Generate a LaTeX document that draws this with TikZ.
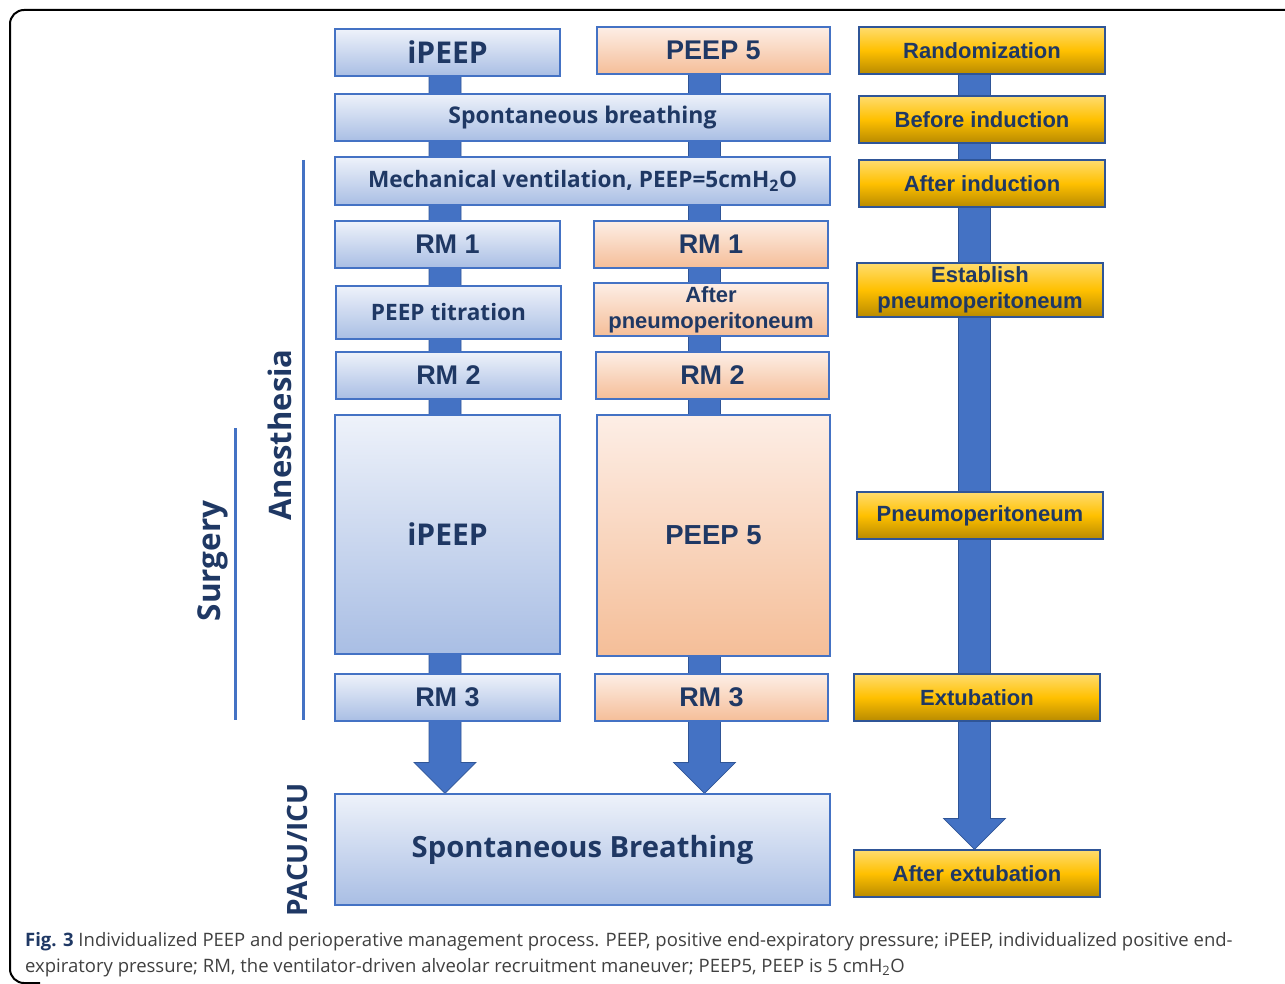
\documentclass[tikz,border=0pt]{standalone}
\usepackage{fontspec}
\setmainfont{Open Sans}
\newfontfamily\arialfont{Liberation Sans}
\usepackage{tikz}
\usetikzlibrary{calc,backgrounds}
\definecolor{navytext}{HTML}{1F3864}
\definecolor{barblue}{HTML}{4472C4}
\definecolor{edgeblue}{HTML}{2F5597}
\definecolor{bluetop}{HTML}{EEF2FA}
\definecolor{bluebot}{HTML}{A9BEE4}
\definecolor{peachtop}{HTML}{FDEEE6}
\definecolor{peachbot}{HTML}{F5BE98}
\definecolor{goldtop}{HTML}{FFDC6E}
\definecolor{goldmid}{HTML}{FFC000}
\definecolor{goldbot}{HTML}{B88A00}
\definecolor{captiongray}{HTML}{404040}

\begin{document}
\begin{tikzpicture}[x=1pt, y=-1pt,
    box/.style={draw=barblue, line width=1.2pt, text=navytext, align=center, inner sep=1pt},
    bluebox/.style={box, top color=bluetop, bottom color=bluebot},
    peachbox/.style={box, top color=peachtop, bottom color=peachbot},
    goldbox/.style={box, draw=edgeblue, top color=goldtop, bottom color=goldbot, middle color=goldmid,
        font=\arialfont\bfseries\fontsize{22}{26}\selectfont},
    boxdim/.style 2 args={minimum width=#1pt, minimum height=#2pt},
    seg/.style={font=\bfseries\fontsize{#1}{#1}\selectfont},
    ari/.style={font=\arialfont\bfseries\fontsize{#1}{26}\selectfont},
    flow/.style={fill=barblue, draw=edgeblue, line width=0.8pt},
    phase/.style={barblue, line width=3pt},
    phaselabel/.style={text=navytext, rotate=90, font=\bfseries\fontsize{#1}{#1}\selectfont}]
    \useasboundingbox (0,0) rectangle (1285,984);
    % frame
    \draw[line width=2pt, rounded corners=14pt] (40,983) -- (10,983) -- (10,10) -- (1285,10);
    % column centres
    \coordinate (colA) at (445,0);
    \coordinate (colB) at (704.5,0);
    \coordinate (colC) at (974.5,0);
    % Nodes: iPEEP group
    \node[bluebox, boxdim={225}{47}, seg=30] (L0) at (447.5,52.5) {iPEEP};
    \node[peachbox, boxdim={233}{47}, ari=27] (R0) at (713.5,50.5) {PEEP 5};
    \node[bluebox, boxdim={495}{47}, seg=23] (SB) at (582.5,117.5) {Spontaneous breathing};
    \node[bluebox, boxdim={495}{48}, seg=22.6] (MV) at (582.5,181) {Mechanical ventilation, PEEP=5cmH\textsubscript{2}O};
    \node[bluebox, boxdim={225}{47}, ari=27] (L1) at (447.5,244.5) {RM 1};
    \node[peachbox, boxdim={234}{47}, ari=27] (R1) at (711,244.5) {RM 1};
    \node[bluebox, boxdim={225}{53}, seg=22.6] (L2) at (448.5,312.5) {PEEP titration};
    \node[peachbox, boxdim={234}{53}, ari=22] (R2) at (711,309.5) {After\\pneumoperitoneum};
    \node[bluebox, boxdim={225}{47}, ari=27] (L3) at (448.5,375.5) {RM 2};
    \node[peachbox, boxdim={233}{47}, ari=27] (R3) at (712.5,375.5) {RM 2};
    \node[bluebox, boxdim={225}{239}, seg=30] (L4) at (447.5,534.5) {iPEEP};
    \node[peachbox, boxdim={233}{241}, ari=27.5] (R4) at (713.5,535.5) {PEEP 5};
    \node[bluebox, boxdim={225}{47}, ari=27] (L5) at (447.5,697.5) {RM 3};
    \node[peachbox, boxdim={233}{47}, ari=27] (R5) at (711.5,697.5) {RM 3};
    \node[bluebox, boxdim={495}{111}, seg=29.2] (PB) at (582.5,849.5) {Spontaneous Breathing};
    % Nodes: time points
    \node[goldbox, boxdim={246}{47}] (G0) at (982,50.5) {Randomization};
    \node[goldbox, boxdim={246}{47}] (G1) at (982,119.5) {Before induction};
    \node[goldbox, boxdim={246}{47}] (G2) at (982,183.5) {After induction};
    \node[goldbox, boxdim={246}{54}] (G3) at (980,290) {Establish\\pneumoperitoneum};
    \node[goldbox, boxdim={246}{47}] (G4) at (980,515.5) {Pneumoperitoneum};
    \node[goldbox, boxdim={246}{47}] (G5) at (977,697.5) {Extubation};
    \node[goldbox, boxdim={246}{47}] (G6) at (977,873.5) {After extubation};
    % Arrows behind the boxes
    \begin{scope}[on background layer]
        \foreach \a/\b/\c in {L0/PB/colA, R0/PB/colB, G0/G6/colC}
            \filldraw[flow] ($(\c |- \a.south)+(-16,0)$) -- ($(\c |- \b.north)+(-16,-31)$) -- ++(-15,0)
                -- (\c |- \b.north) -- ++(31,-31) -- ++(-15,0) -- ($(\c |- \a.south)+(16,0)$) -- cycle;
    \end{scope}
    % Phases
    \draw[phase] (303,160) -- (303,720);
    \draw[phase] (235,428) -- (235,720);
    \node[phaselabel=31] (AN) at (280,435) {Anesthesia};
    \node[phaselabel=31.5] (SU) at (213,561) {Surgery};
    \node[phaselabel=28] (PI) at (297,850) {PACU/ICU};
    % Caption
    \node[anchor=base west, inner sep=0pt, text=captiongray, font=\fontsize{18.5}{20}\selectfont] (C1) at (25,946)
        {\textcolor{navytext}{\bfseries Fig. 3} Individualized PEEP and perioperative management process. PEEP, positive end-expiratory pressure; iPEEP, individualized positive end-};
    \node[anchor=base west, inner sep=0pt, text=captiongray, font=\fontsize{18.5}{20}\selectfont] (C2) at (25,972)
        {expiratory pressure; RM, the ventilator-driven alveolar recruitment maneuver; PEEP5, PEEP is 5 cmH\textsubscript{2}O};
\end{tikzpicture}
\end{document}
